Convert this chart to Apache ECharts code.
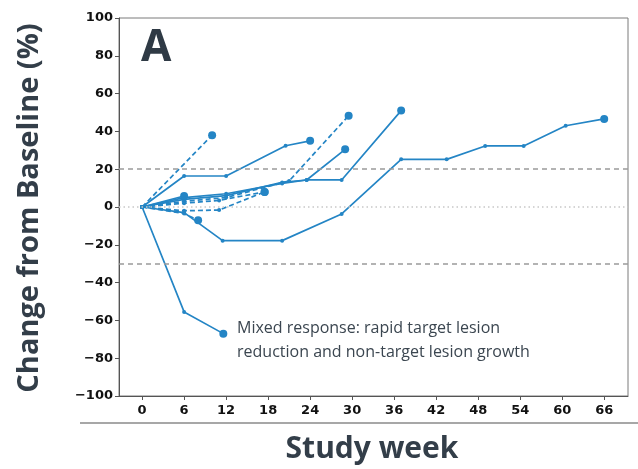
<!DOCTYPE html>
<html>
<head>
<meta charset="utf-8">
<script src="https://cdn.jsdelivr.net/npm/echarts@6/dist/echarts.min.js"></script>
<style>
  html, body { margin: 0; padding: 0; background: #fff; }
  #chart { width: 638px; height: 469px; }
</style>
</head>
<body>
<div id="chart"></div>
<script>
// Week ticks shown on the x axis
const weekTicks = [0, 6, 12, 18, 24, 30, 36, 42, 48, 54, 60, 66];

// Per-patient tumour change from baseline: [week, % change]
const ptRapidDrop   = [[0, 0], [6, -55.5], [11.6, -67]];
const ptLongCourse  = [[0, 0], [6, -3], [11.5, -17.8], [20, -17.8], [28.5, -3.7], [37, 25.2], [43.5, 25.2], [49, 32.3], [54.5, 32.3], [60.5, 43], [66, 46.6]];
const ptEarlyRise   = [[0, 0], [6, 16.4], [12, 16.4], [20.5, 32.4], [24, 35]];
const ptPlateauUp   = [[0, 0], [6, 4], [12, 6], [20, 13], [23.5, 14.3], [28.5, 14.3], [37, 51]];
const ptLateRise    = [[0, 0], [6, 5], [12, 7], [20, 12.5], [23.5, 14.3], [29, 30.5]];
const ptShort       = [[0, 0], [6, 5.8]];
const ptDashFast    = [[0, 0], [10, 38]];
const ptDashSteep   = [[0, 0], [6, 3], [12, 5], [21, 13.8], [29.5, 48.3]];
const ptDashSlow    = [[0, 0], [6, 2], [11, 3.5], [17.5, 8]];
const ptDashDip     = [[0, 0], [6, -2], [11, -1.6], [17.5, 8]];
const ptDashNeg     = [[0, 0], [6, -3.5], [8, -7]];

const solidSeries = [ptRapidDrop, ptLongCourse, ptEarlyRise, ptPlateauUp, ptLateRise, ptShort];
const dashedSeries = [ptDashFast, ptDashSteep, ptDashSlow, ptDashDip, ptDashNeg];

// Threshold reference lines (progression +20 %, response -30 %)
const progressionLine = 20;
const responseLine = -30;

const blue = '#2485c5';
const tickFont = { fontFamily: 'DejaVu Sans', fontWeight: 'bold', fontSize: 13, color: '#111' };
const minusFmt = v => String(v).replace('-', '\u2212');

function makeSeries(data, dashed) {
  const last = data.length - 1;
  return {
    type: 'line',
    data: data,
    symbol: 'circle',
    symbolSize: (v, p) => (p.dataIndex === last ? 8 : 4),
    itemStyle: { color: blue },
    lineStyle: { color: blue, width: 1.7, type: dashed ? [5, 3] : 'solid' },
    animation: false,
    z: 3
  };
}

const series = [];
solidSeries.forEach(d => series.push(makeSeries(d, false)));
dashedSeries.forEach(d => series.push(makeSeries(d, true)));

// Reference lines carried by an empty helper series
series.push({
  type: 'line',
  data: [],
  silent: true,
  markLine: {
    symbol: 'none',
    label: { show: false },
    animation: false,
    data: [
      { yAxis: progressionLine, lineStyle: { color: '#9a9a9a', type: [5, 4], width: 1.5 } },
      { yAxis: responseLine, lineStyle: { color: '#9a9a9a', type: [5, 4], width: 1.5 } },
      { yAxis: 0, lineStyle: { color: '#c8c8c8', type: [1.5, 3], width: 1.5 } }
    ]
  },
  z: 1
});

const chart = echarts.init(document.getElementById('chart'), null, { renderer: 'canvas' });
chart.setOption({
  backgroundColor: '#fff',
  animation: false,
  grid: {
    left: 119, top: 18, right: 10, bottom: 73,
    show: true, borderColor: '#7a7a7a', borderWidth: 1
  },
  xAxis: {
    type: 'value',
    min: -3.3,
    max: 69.4,
    splitLine: { show: false },
    axisLine: { onZero: false, lineStyle: { color: '#555' } },
    axisTick: { customValues: weekTicks, length: 4, lineStyle: { color: '#555' } },
    axisLabel: Object.assign({ customValues: weekTicks, margin: 8 }, tickFont)
  },
  yAxis: {
    type: 'value',
    min: -100,
    max: 100,
    interval: 20,
    splitLine: { show: false },
    axisLine: { show: true, onZero: false, lineStyle: { color: '#555' } },
    axisTick: { show: true, length: 4, lineStyle: { color: '#555' } },
    axisLabel: Object.assign({ margin: 6, formatter: minusFmt }, tickFont)
  },
  series: series,
  graphic: [
    {
      type: 'text', left: 141, top: 26,
      style: { text: 'A', font: 'bold 44px "Open Sans"', fill: '#2f3a45' }
    },
    {
      type: 'text', left: 237, top: 316,
      style: {
        text: 'Mixed response: rapid target lesion\nreduction and non-target lesion growth',
        font: '16px "Open Sans"', fill: '#3b4650', lineHeight: 24
      }
    },
    {
      type: 'text', x: 30, y: 208, rotation: Math.PI / 2,
      style: {
        text: 'Change from Baseline (%)', font: 'bold 29px "Open Sans"', fill: '#333e49',
        align: 'center', verticalAlign: 'middle'
      }
    },
    {
      type: 'text', x: 372, y: 449,
      style: {
        text: 'Study week', font: 'bold 30px "Open Sans"', fill: '#333e49',
        align: 'center', verticalAlign: 'middle'
      }
    },
    {
      type: 'line', shape: { x1: 80, y1: 423, x2: 638, y2: 423 },
      style: { stroke: '#8a8a8a', lineWidth: 1.5 }
    }
  ]
});
</script>
</body>
</html>
